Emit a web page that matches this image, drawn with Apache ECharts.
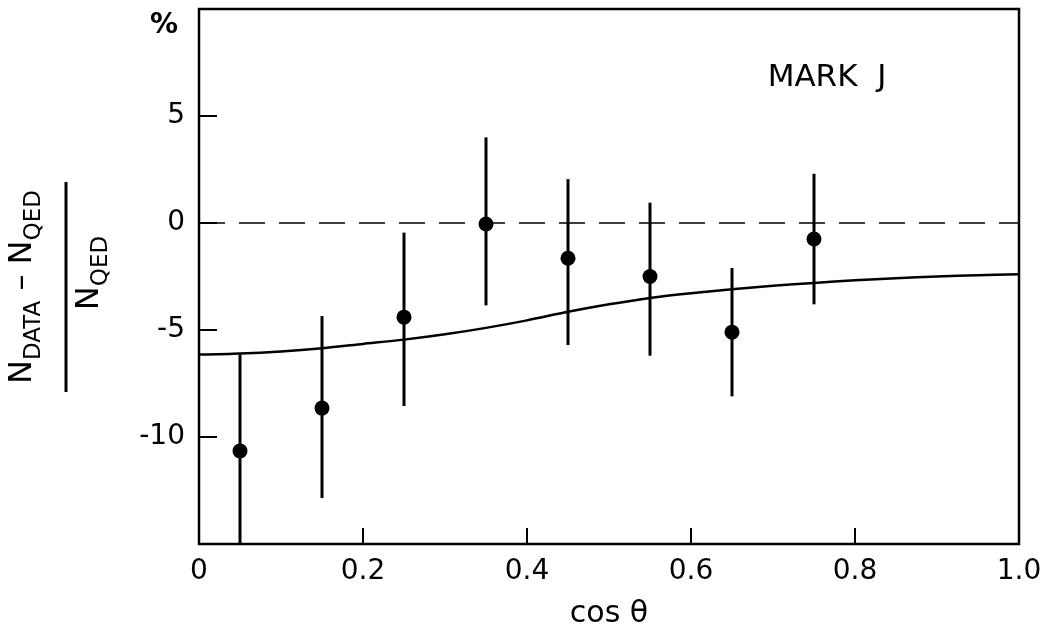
<!DOCTYPE html>
<html>
<head>
<meta charset="utf-8">
<script src="https://cdn.jsdelivr.net/npm/echarts@6/dist/echarts.min.js"></script>
<style>
  html, body { margin: 0; padding: 0; background: #fff; }
  #chart { width: 1048px; height: 634px; }
</style>
</head>
<body>
<div id="chart"></div>
<script>
// data (cos theta bins, percent deviation)
const cosTheta = [0.05, 0.15, 0.25, 0.35, 0.45, 0.55, 0.65, 0.75];
const deviation = [-10.65, -8.65, -4.4, -0.05, -1.65, -2.5, -5.1, -0.75];
const errHigh = [-6.15, -4.35, -0.45, 4.0, 2.05, 0.95, -2.1, 2.3];
const errLow = [-15, -12.85, -8.55, -3.85, -5.7, -6.2, -8.1, -3.8];

// QED radiative-correction curve (solid line)
const curveX = [0, 0.05, 0.1, 0.15, 0.2, 0.25, 0.3, 0.35, 0.4, 0.45, 0.5, 0.55, 0.6, 0.65, 0.7, 0.75, 0.8, 0.85, 0.9, 0.95, 1.0];
const curveY = [-6.15, -6.1, -6.0, -5.85, -5.65, -5.45, -5.2, -4.9, -4.55, -4.15, -3.8, -3.5, -3.28, -3.1, -2.93, -2.8, -2.68, -2.58, -2.5, -2.44, -2.4];

const zeroLineX = [0, 1];
const zeroLineY = [0, 0];

const font = 'DejaVu Sans';

const chart = echarts.init(document.getElementById('chart'));

const pointData = cosTheta.map((x, i) => [x, deviation[i]]);
const errData = cosTheta.map((x, i) => [x, errLow[i], errHigh[i]]);
const curveData = curveX.map((x, i) => [x, curveY[i]]);
const zeroData = zeroLineX.map((x, i) => [x, zeroLineY[i]]);

const fracRich = {
  n: { fontFamily: font, fontSize: 32, verticalAlign: 'bottom', padding: [0, 0, 7, 0] },
  s: { fontFamily: font, fontSize: 23, verticalAlign: 'bottom' }
};

const option = {
  backgroundColor: '#fff',
  animation: false,
  grid: {
    left: 199, right: 29, top: 9, bottom: 88,
    show: true, borderColor: '#000', borderWidth: 2.5, backgroundColor: 'transparent'
  },
  xAxis: {
    type: 'value', min: 0, max: 1, interval: 0.2,
    name: 'cos θ', nameLocation: 'middle', nameGap: 55,
    nameTextStyle: { fontFamily: font, fontSize: 30, color: '#000' },
    axisLine: { show: false, onZero: false },
    axisTick: { show: true, inside: true, length: 16, lineStyle: { color: '#000', width: 2 } },
    splitLine: { show: false },
    axisLabel: {
      fontFamily: font, fontSize: 28, color: '#000', margin: 14,
      formatter: v => v === 0 ? '0' : v.toFixed(1)
    }
  },
  yAxis: {
    type: 'value', min: -15, max: 10, interval: 5,
    axisLine: { show: false, onZero: false },
    axisTick: { show: true, inside: true, length: 18, lineStyle: { color: '#000', width: 2 } },
    splitLine: { show: false },
    axisLabel: {
      fontFamily: font, fontSize: 28, color: '#000', margin: 14,
      formatter: v => (v === 10 || v === -15) ? '' : String(v)
    }
  },
  graphic: [
    {
      type: 'text', left: 150, top: 12,
      style: { text: '%', fontFamily: font, fontSize: 28, fontWeight: 'bold', fill: '#000' }
    },
    {
      type: 'text', x: 827, y: 78,
      style: { text: 'MARK  J', fontFamily: font, fontSize: 31, fill: '#000', align: 'center', verticalAlign: 'middle' }
    },
    {
      type: 'group', x: 66, y: 287, rotation: Math.PI / 2,
      children: [
        { type: 'line', shape: { x1: -105, y1: 0, x2: 105, y2: 0 }, style: { stroke: '#000', lineWidth: 3 } },
        {
          type: 'text', x: 0, y: -20,
          style: {
            text: '{n|N}{s|DATA}{n| – N}{s|QED}',
            align: 'center', verticalAlign: 'bottom', fill: '#000', rich: fracRich
          }
        },
        {
          type: 'text', x: 14, y: 8,
          style: {
            text: '{n|N}{s|QED}',
            align: 'center', verticalAlign: 'top', fill: '#000', rich: fracRich
          }
        }
      ]
    }
  ],
  series: [
    {
      name: 'zero', type: 'line', data: zeroData, symbol: 'none', silent: true,
      lineStyle: { color: '#000', width: 1.5, type: [26, 14] }
    },
    {
      name: 'QED', type: 'line', data: curveData, symbol: 'none', smooth: 0.3, silent: true,
      lineStyle: { color: '#000', width: 2.5 }
    },
    {
      name: 'errors', type: 'custom', data: errData, clip: true,
      renderItem: function (params, api) {
        const top = api.coord([api.value(0), api.value(2)]);
        const bot = api.coord([api.value(0), api.value(1)]);
        return {
          type: 'line',
          shape: { x1: top[0], y1: top[1], x2: bot[0], y2: bot[1] },
          style: { stroke: '#000', lineWidth: 3 }
        };
      },
      encode: { x: 0, y: [1, 2] }
    },
    {
      name: 'MARK J', type: 'scatter', data: pointData, symbol: 'circle', symbolSize: 15,
      itemStyle: { color: '#000', opacity: 1 }
    }
  ]
};

chart.setOption(option);
</script>
</body>
</html>
